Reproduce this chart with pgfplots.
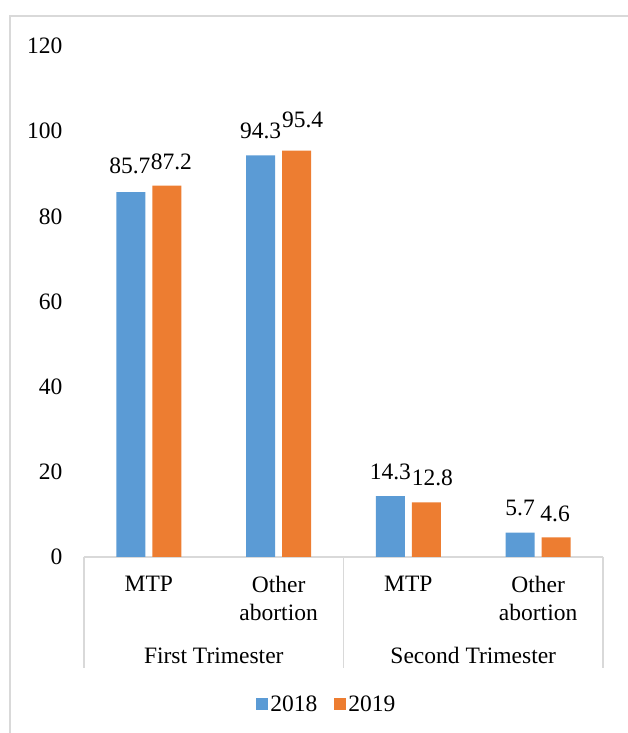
\documentclass[border=0pt]{standalone}
\usepackage{pgfplots}
\usepackage{pgfplotstable}
\pgfplotsset{compat=1.18}
\usepackage{fontspec}
\setmainfont{Liberation Serif}
\definecolor{c2018}{HTML}{5B9BD5}
\definecolor{c2019}{HTML}{ED7D31}
\definecolor{frame}{HTML}{D9D9D9}
\newcommand\f{\fontsize{23.5}{27.5}\selectfont}

% x: category, y: value, dx/dy: label offsets (pt)
\pgfplotstableread{
x y    dx   dy
0 85.7 -1   19
1 94.3 0    17
2 14.3 0    17
3 5.7  0    17
}\tbla
\pgfplotstableread{
x y    dx   dy
0 87.2 4.5  16
1 95.4 6    23
2 12.8 6    17
3 4.6  -1   16
}\tblb

\begin{document}
\begin{tikzpicture}[x=1pt,y=1pt]
\path[use as bounding box] (0,0) rectangle (627,733);
% chart frame
\draw[frame, line width=1.5pt] (10,0) -- (10,717) -- (640,717);
\begin{axis}[
    at={(84pt,176pt)}, anchor=south west,
    scale only axis,
    width=519pt, height=511pt,
    xmin=-0.5, xmax=3.5,
    ymin=0, ymax=120,
    ytick={0,20,...,120},
    xtick={0,1,2,3},
    xticklabels={MTP, Other\\abortion, MTP, Other\\abortion},
    xticklabel style={font=\f, align=center, anchor=north, yshift=-16pt},
    yticklabel style={font=\f, xshift=-18pt},
    /pgf/number format/assume math mode=true,
    major tick length=0pt,
    axis x line*=bottom,
    axis y line*=left,
    y axis line style={draw=none},
    x axis line style={frame, line width=1.5pt, -},
    clip=false,
    ybar,
    bar width=0.2235,
    nodes near coords,
    visualization depends on={\thisrow{dx} \as \dx},
    visualization depends on={\thisrow{dy} \as \dy},
    nodes near coords style={font=\f, anchor=base, xshift=\dx pt, yshift=\dy pt,
        /pgf/number format/.cd, fixed, fixed zerofill, precision=1, assume math mode=true},
    legend columns=2,
    legend style={draw=none, fill=none, font=\f,
        at={(rel axis cs:0.468,-0.2877)}, anchor=center,
        /tikz/every even column/.append style={column sep=15pt}},
    legend image code/.code={\path[#1, draw=none] (0pt,-6pt) rectangle (12pt,6pt);},
]
\addplot[fill=c2018, draw=none, bar shift=-0.139] table[x=x, y=y] {\tbla};
\addlegendentry{2018}
\addplot[fill=c2019, draw=none, bar shift=0.139] table[x=x, y=y] {\tblb};
\addlegendentry{2019}
% group separators and labels
\draw[frame, line width=1.5pt] (axis cs:-0.5,0) -- ++(0pt,-111pt);
\draw[frame, line width=1.5pt] (axis cs:1.5,0) -- ++(0pt,-111pt);
\draw[frame, line width=1.5pt] (axis cs:3.5,0) -- ++(0pt,-111pt);
\node[font=\f, anchor=base, yshift=-106pt] at (axis cs:0.5,0) {First Trimester};
\node[font=\f, anchor=base, yshift=-106pt] at (axis cs:2.5,0) {Second Trimester};
\end{axis}
\end{tikzpicture}
\end{document}
